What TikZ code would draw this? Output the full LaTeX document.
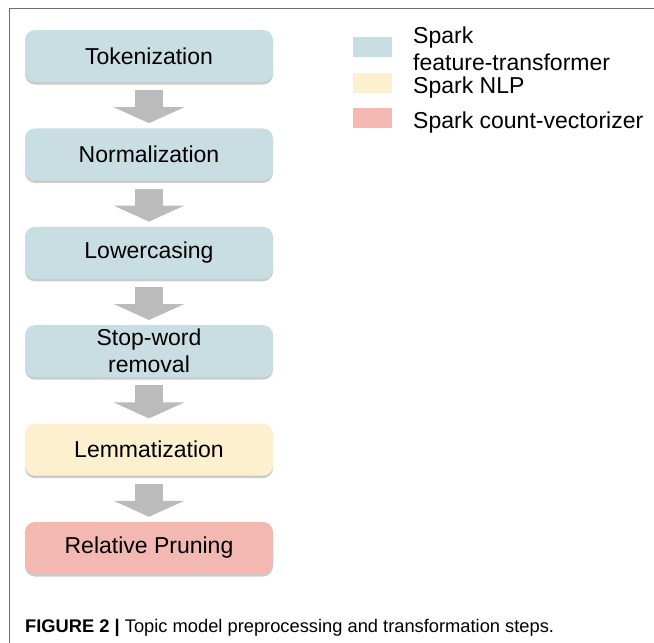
\documentclass[tikz,border=0pt]{standalone}
\usepackage{fontspec}
\setmainfont{Liberation Sans}
\usetikzlibrary{positioning,arrows.meta,shadows}

\definecolor{featblue}{RGB}{201,222,227}
\definecolor{nlpyellow}{RGB}{252,240,207}
\definecolor{countred}{RGB}{242,184,177}
\definecolor{flowgrey}{RGB}{187,187,187}
\definecolor{framegrey}{RGB}{110,110,110}

\begin{document}
\begin{tikzpicture}[x=1pt,y=-1pt,
        stepnode/.style={rounded corners=10pt,minimum width=248pt,minimum height=52pt,inner sep=0pt,
            align=center,font=\fontsize{23}{27}\selectfont,
            drop shadow={shadow xshift=0pt,shadow yshift=-2.5pt,fill=black!45,opacity=0.45}},
        flow/.style={draw=flowgrey,line width=28pt,-{Triangle[length=16pt,width=70pt]},
            shorten <=8pt,shorten >=5pt},
        legbox/.style={minimum width=39pt,minimum height=20pt,inner sep=0pt},
        legtext/.style={anchor=base west,inner sep=0pt,font=\fontsize{23}{27}\selectfont},
        node distance=46pt]

    \useasboundingbox (0,0) rectangle (654,643);
    \draw[framegrey,line width=1pt] (654,8) -- (9,8) -- (9,643);

    % processing steps
    \node[stepnode,fill=featblue] (tok) at (149,56) {Tokenization};
    \node[stepnode,fill=featblue,below=of tok] (norm) {Normalization};
    \node[stepnode,fill=featblue,below=of norm] (lower) {Lowercasing};
    \node[stepnode,fill=featblue,below=of lower] (stop) {Stop-word\\removal};
    \node[stepnode,fill=nlpyellow,below=of stop] (lemma) {Lemmatization};
    \node[stepnode,fill=countred,below=of lemma] (prune) {Relative Pruning};

    \foreach \a/\b in {tok/norm,norm/lower,lower/stop,stop/lemma,lemma/prune}
        \draw[flow] (\a.south) -- (\b.north);

    % legend
    \node[legbox,fill=featblue] (legft) at (372.5,47) {};
    \node[legbox,fill=nlpyellow] (legnlp) at (372.5,83) {};
    \node[legbox,fill=countred] (legcv) at (372.5,118) {};
    \node[legtext] (legfta) at (413,43) {Spark};
    \node[legtext] (legftb) at (413,70) {feature-transformer};
    \node[legtext] (legnlptxt) at (413,93) {Spark NLP};
    \node[legtext] (legcvtxt) at (413,128) {Spark count-vectorizer};

    \node[anchor=base west,inner sep=0pt,font=\fontsize{18.3}{20}\selectfont] (caption) at (25,632)
        {\textbf{FIGURE 2 |} Topic model preprocessing and transformation steps.};
\end{tikzpicture}
\end{document}
